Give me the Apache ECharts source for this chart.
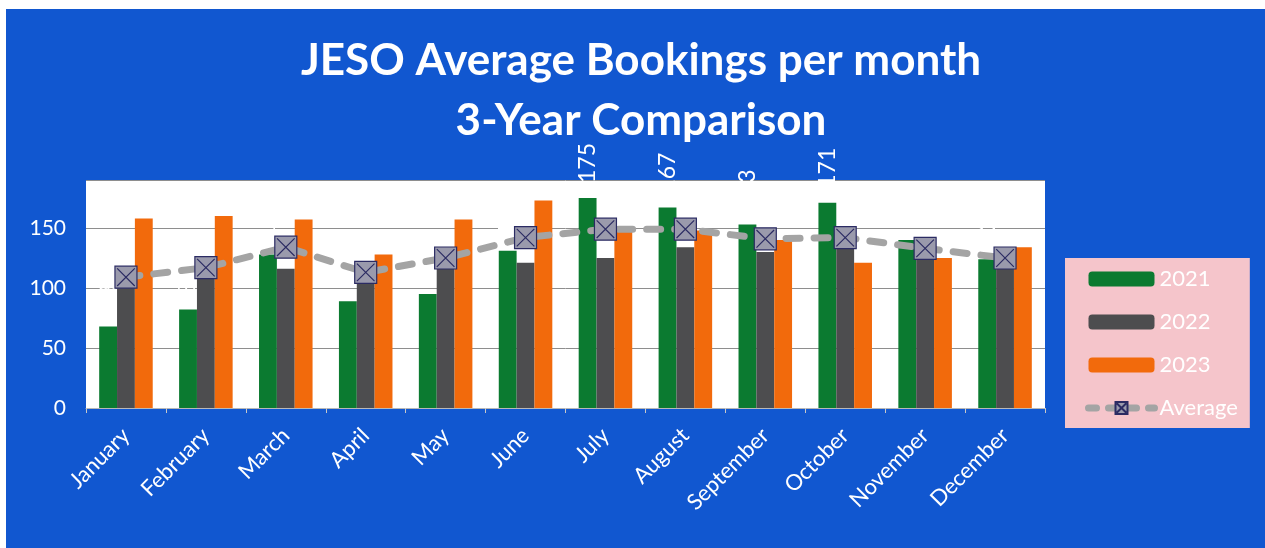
<!DOCTYPE html>
<html>
	<head>
		<meta charset="utf-8">
		<title>JESO Average Bookings</title>
		<script src="https://cdn.jsdelivr.net/npm/echarts@6/dist/echarts.min.js"></script>
		<style>
			body { margin: 0; background: #fff; }
			#main { position: absolute; left: 6px; top: 9px; width: 1259px; height: 539px; }
		</style>
	</head>
	<body>
		<div id="main"></div>
		<script>
			var months = ['January', 'February', 'March', 'April', 'May', 'June',
				'July', 'August', 'September', 'October', 'November', 'December'];
			var y2021 = [68, 82, 128, 89, 95, 131, 175, 167, 153, 171, 140, 124];
			var y2022 = [101, 110, 116, 122, 122, 121, 125, 134, 130, 134, 134, 117];
			var y2023 = [158, 160, 157, 128, 157, 173, 149, 148, 140, 121, 125, 134];
			var average = [109, 117, 134, 113, 125, 142, 149, 149, 141, 142, 133, 125];
			var yTicks = [0, 50, 100, 150];

			var font = 'Lato';
			var mychart = echarts.init(document.getElementById('main'));
			var option = {
				backgroundColor: '#1157d0',
				textStyle: { fontFamily: font },
				title: {
					text: 'JESO Average Bookings per month\n3-Year Comparison',
					left: 635,
					textAlign: 'center',
					top: 22,
					padding: 0,
					textStyle: {
						color: '#fff',
						fontSize: 44,
						fontWeight: 'bold',
						fontFamily: font,
						lineHeight: 60
					}
				},
				legend: {
					orient: 'vertical',
					left: 1059,
					top: 249,
					padding: [10, 12, 9, 20],
					backgroundColor: '#f5c5cb',
					itemWidth: 66,
					itemHeight: 15,
					itemGap: 21,
					textStyle: { color: '#fff', fontSize: 22, fontFamily: font },
					data: ['2021', '2022', '2023', {
						name: 'Average',
						lineStyle: { width: 7, type: [8, 12], cap: 'round', color: '#a4a4a4' }
					}]
				},
				grid: {
					show: true,
					left: 80,
					right: 220,
					top: 171,
					bottom: 140,
					backgroundColor: '#fff',
					borderWidth: 0
				},
				xAxis: {
					type: 'category',
					data: months,
					axisLine: { lineStyle: { color: '#b8b8b8' } },
					axisTick: { show: true, length: 5, lineStyle: { color: '#c8c8c8' } },
					axisLabel: {
						rotate: 45,
						margin: 24,
						color: '#fff',
						fontSize: 22,
						fontFamily: font
					}
				},
				yAxis: {
					type: 'value',
					min: 0,
					max: 190,
					interval: 50,
					axisLine: { show: false },
					axisTick: { show: false },
					axisLabel: {
						color: '#fff',
						fontSize: 21,
						fontFamily: font,
						margin: 20,
						showMaxLabel: false,
						formatter: function (v) { return yTicks.indexOf(v) >= 0 ? v : ''; }
					},
					splitLine: { lineStyle: { color: '#8e8e8e', width: 1 } }
				},
				series: [
					{
						name: '2021',
						type: 'bar',
						data: y2021,
						barGap: '0%',
						barCategoryGap: '33%',
						itemStyle: { color: '#0b7a30' },
						label: {
							show: true,
							position: 'top',
							distance: 15,
							rotate: 90,
							align: 'left',
							verticalAlign: 'middle',
							color: '#fff',
							fontSize: 23,
							fontFamily: font
						}
					},
					{
						name: '2022',
						type: 'bar',
						data: y2022,
						itemStyle: { color: '#4d4d4f' }
					},
					{
						name: '2023',
						type: 'bar',
						data: y2023,
						itemStyle: { color: '#f26a0c' }
					},
					{
						name: 'Average',
						type: 'line',
						data: average,
						z: 5,
						symbol: 'path://M0,0H10V10H0Z M1,1L9,9 M9,1L1,9',
						symbolSize: 22,
						itemStyle: { color: '#9a9aac', borderColor: '#2b2b63', borderWidth: 1.2 },
						lineStyle: { color: '#a4a4a4', width: 7, type: [14, 14], cap: 'round' }
					}
				]
			};
			mychart.setOption(option);
		</script>
	</body>
</html>
